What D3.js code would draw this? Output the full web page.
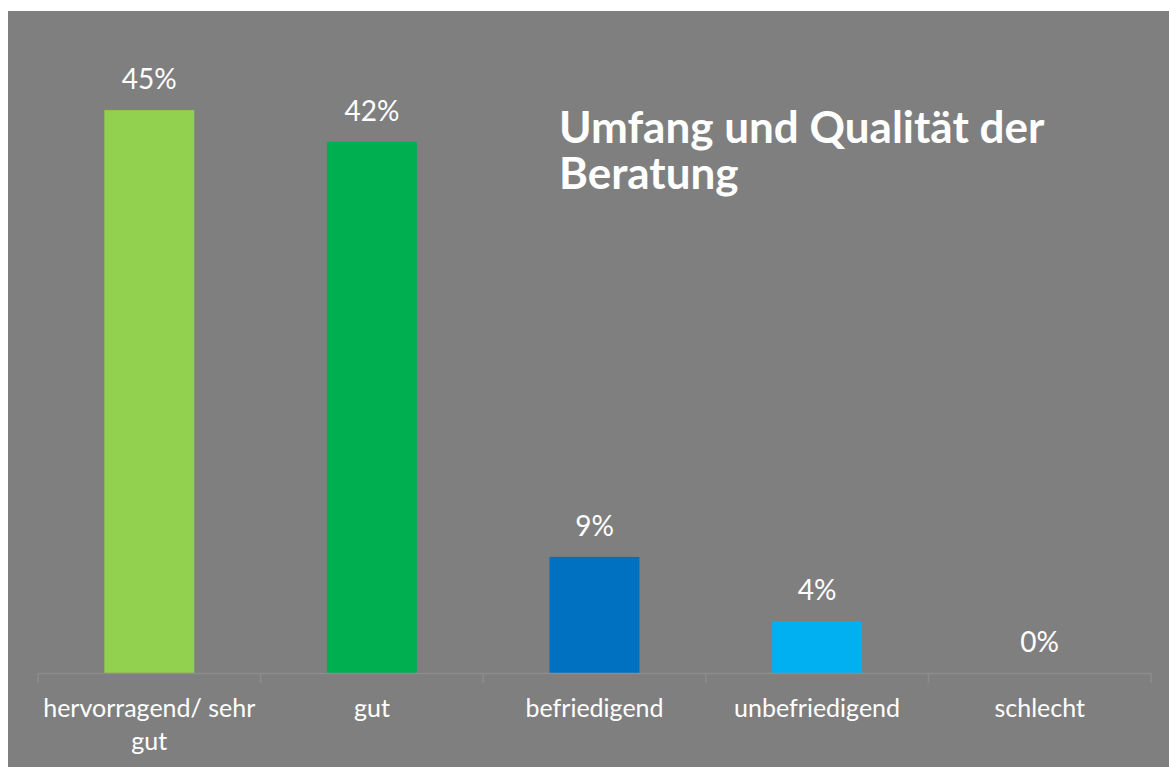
<!DOCTYPE html>
<html>
<head>
<meta charset="utf-8">
<script src="https://cdn.jsdelivr.net/npm/d3@7"></script>
<style>
  html, body { margin: 0; padding: 0; background: #ffffff; }
  svg { display: block; }
  .valText { font-family: Lato, "Open Sans", sans-serif; font-size: 28px; fill: #ffffff; }
  .catText { font-family: Lato, "Open Sans", sans-serif; font-size: 25px; fill: #ffffff; }
  .titleText { font-family: Lato, "Open Sans", sans-serif; font-size: 44px; font-weight: bold; fill: #ffffff; }
</style>
</head>
<body>
<div id="chart"></div>
<script>
var categories = ["hervorragend/ sehr gut", "gut", "befriedigend", "unbefriedigend", "schlecht"]
var shares = [0.446, 0.421, 0.092, 0.041, 0]
var barColors = ["#92d050", "#00b050", "#0070c0", "#00b0f0", "#7f7f7f"]
var catLines = [["hervorragend/ sehr", "gut"], ["gut"], ["befriedigend"], ["unbefriedigend"], ["schlecht"]]
var titleLines = ["Umfang und Qualität der", "Beratung"]

var W = 1169, H = 767
var svg = d3.select("#chart").append("svg")
  .attr("width", W)
  .attr("height", H)

/* grey chart area */
svg.append("rect")
  .attr("x", 8)
  .attr("y", 11)
  .attr("width", W - 8)
  .attr("height", H - 11)
  .attr("fill", "#7f7f7f")

var xScale = d3.scaleBand()
  .domain(categories)
  .range([38, 1151])
  .paddingInner(0.596)
  .paddingOuter(0.298)
var yScale = d3.scaleLinear()
  .domain([0, 0.5])
  .range([673, 42])

function barX(d, i) { return xScale(categories[i]) }
function barY(d, i) { return yScale(d) }
function barH(d, i) { return yScale(0) - yScale(d) }
function midX(d, i) { return xScale(categories[i]) + xScale.bandwidth() / 2 }

/* bars */
svg.selectAll("rect.bar")
  .data(shares)
  .enter()
  .append("rect")
  .attr("class", "bar")
  .attr("x", barX)
  .attr("y", barY)
  .attr("width", xScale.bandwidth())
  .attr("height", barH)
  .attr("fill", function(d, i) { return barColors[i] })

/* axis line + boundary ticks */
var axisY = yScale(0)
svg.append("line")
  .attr("x1", xScale.range()[0])
  .attr("x2", xScale.range()[1])
  .attr("y1", axisY + 0.5)
  .attr("y2", axisY + 0.5)
  .attr("stroke", "#8c8c8c")
  .attr("stroke-width", 1.5)
var tickPos = d3.range(categories.length + 1).map(function(i) {
  return xScale.range()[0] + i * xScale.step()
})
svg.selectAll("line.tick")
  .data(tickPos)
  .enter()
  .append("line")
  .attr("class", "tick")
  .attr("x1", function(d) { return d })
  .attr("x2", function(d) { return d })
  .attr("y1", axisY)
  .attr("y2", axisY + 10)
  .attr("stroke", "#8c8c8c")
  .attr("stroke-width", 1.5)

/* value labels */
svg.selectAll("text.valText")
  .data(shares)
  .enter()
  .append("text")
  .attr("class", "valText")
  .attr("x", midX)
  .attr("y", function(d) { return yScale(d) - 21 })
  .attr("text-anchor", "middle")
  .text(function(d) { return Math.round(d * 100) + "%" })

/* category labels */
var catG = svg.selectAll("text.catText")
  .data(catLines)
  .enter()
  .append("text")
  .attr("class", "catText")
  .attr("text-anchor", "middle")
catG.selectAll("tspan")
  .data(function(d, i) { return d.map(function(t) { return { t: t, i: i } }) })
  .enter()
  .append("tspan")
  .attr("x", function(d) { return midX(null, d.i) })
  .attr("y", function(d, j) { return 717 + j * 33 })
  .text(function(d) { return d.t })

/* title */
svg.selectAll("text.titleText")
  .data(titleLines)
  .enter()
  .append("text")
  .attr("class", "titleText")
  .attr("x", 559)
  .attr("y", function(d, i) { return 143 + i * 46 })
  .text(function(d) { return d })
</script>
</body>
</html>
